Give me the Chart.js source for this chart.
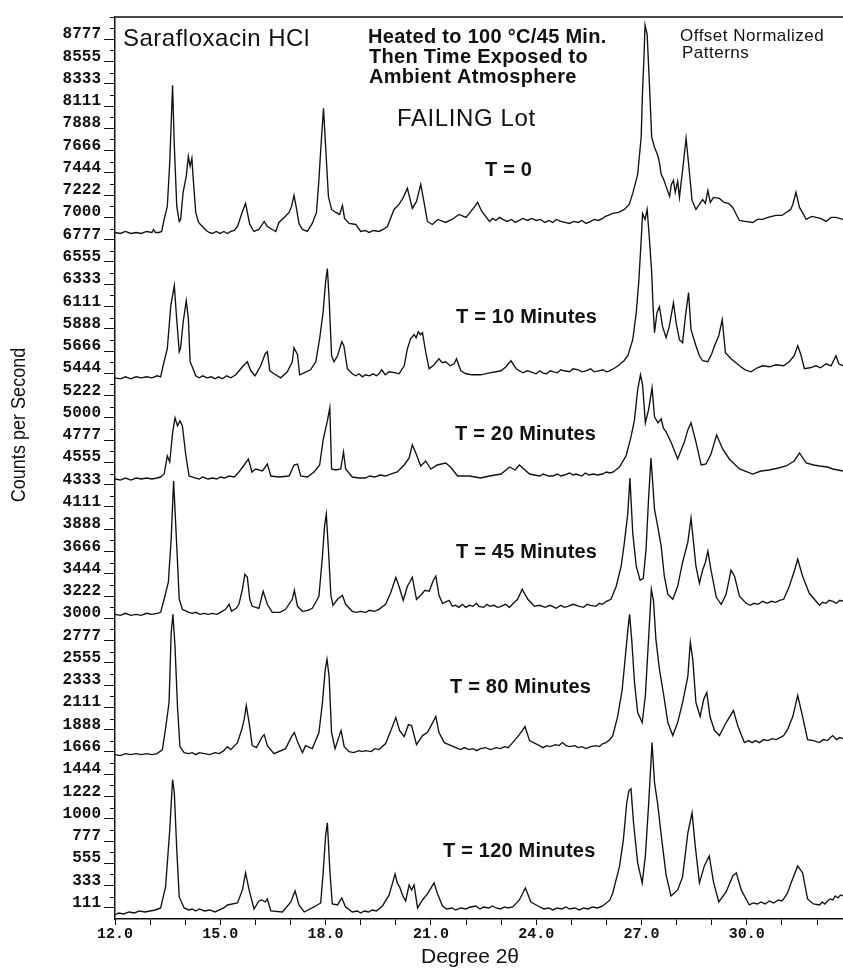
<!DOCTYPE html>
<html>
<head>
<meta charset="utf-8">
<title>Sarafloxacin HCl – offset normalized XRD patterns</title>
<script src="https://cdn.jsdelivr.net/npm/chart.js@4.4.1/dist/chart.umd.min.js"></script>
<style>
  html, body { margin: 0; padding: 0; background: #fff; }
  canvas { display: block; }
</style>
</head>
<body>
<canvas id="xrd" width="843" height="971"></canvas>
<script>
// ---- axis ranges and tick labels -------------------------------------
const twoThetaMin = 12.0;
const twoThetaMax = 32.74;
const countsMax = 9000;
const twoThetaTickLabels = [12, 15, 18, 21, 24, 27, 30];
const countTickLabels = ['111','333','555','777','1000','1222','1444','1666','1888','2111',
  '2333','2555','2777','3000','3222','3444','3666','3888','4111','4333',
  '4555','4777','5000','5222','5444','5666','5888','6111','6333','6555',
  '6777','7000','7222','7444','7666','7888','8111','8333','8555','8777'];

// ---- offset patterns: [2θ (deg), counts per second] ----------------------
const patternT0 = [
  [12.00,6850],[12.15,6840],[12.30,6860],[12.45,6840],[12.60,6850],[12.75,6840],[12.90,6860],
  [13.05,6850],[13.10,6880],[13.15,6850],[13.25,6850],[13.33,6860],[13.40,6980],[13.49,7110],
  [13.56,7550],[13.64,8320],[13.69,7710],[13.76,7110],[13.83,6960],[13.87,6980],[13.94,7250],
  [14.03,7410],[14.09,7610],[14.14,7510],[14.19,7590],[14.23,7380],[14.30,7050],[14.38,6950],
  [14.49,6910],[14.60,6870],[14.68,6850],[14.78,6840],[14.88,6860],[15.00,6840],[15.10,6860],
  [15.20,6840],[15.30,6860],[15.40,6870],[15.49,6910],[15.63,7060],[15.72,7140],[15.77,7050],
  [15.84,6930],[15.96,6860],[16.10,6880],[16.25,6960],[16.34,6910],[16.48,6880],[16.58,6860],
  [16.67,6950],[16.82,7000],[16.96,7050],[17.03,7110],[17.10,7220],[17.17,7090],[17.24,6940],
  [17.34,6880],[17.48,6860],[17.62,6940],[17.74,7050],[17.81,7380],[17.88,7780],[17.94,8090],
  [18.00,7710],[18.08,7210],[18.17,7080],[18.29,7050],[18.40,7030],[18.48,7120],[18.54,6990],
  [18.67,6940],[18.86,6930],[19.00,6860],[19.12,6870],[19.24,6850],[19.36,6870],[19.52,6860],
  [19.64,6880],[19.76,6910],[19.95,7080],[20.09,7130],[20.20,7190],[20.33,7290],[20.40,7190],
  [20.47,7090],[20.59,7160],[20.71,7330],[20.80,7160],[20.90,6960],[21.04,6930],[21.20,6980],
  [21.42,6950],[21.60,6980],[21.80,7030],[22.00,7000],[22.23,7100],[22.33,7150],[22.45,7060],
  [22.67,6960],[22.76,6990],[22.85,6970],[22.95,7000],[23.05,6980],[23.17,6960],[23.30,6980],
  [23.40,6950],[23.52,6970],[23.62,6990],[23.75,6970],[23.87,6990],[24.00,6970],[24.12,6980],
  [24.25,6950],[24.36,6970],[24.47,6950],[24.58,6980],[24.70,6960],[24.82,6950],[24.95,6940],
  [25.07,6960],[25.20,6950],[25.30,6970],[25.42,6940],[25.55,6960],[25.65,6980],[25.77,6970],
  [25.89,6990],[25.97,7010],[26.05,7020],[26.18,7040],[26.35,7050],[26.51,7080],[26.65,7130],
  [26.75,7240],[26.89,7430],[26.99,7800],[27.03,8270],[27.07,8600],[27.10,8920],[27.16,8830],
  [27.22,8370],[27.29,7800],[27.37,7700],[27.46,7620],[27.51,7550],[27.56,7430],[27.63,7380],
  [27.70,7310],[27.80,7210],[27.85,7330],[27.91,7370],[27.96,7250],[28.03,7360],[28.08,7200],
  [28.17,7470],[28.27,7790],[28.34,7540],[28.44,7170],[28.55,7080],[28.65,7130],[28.74,7180],
  [28.82,7140],[28.89,7270],[28.96,7150],[29.05,7200],[29.22,7190],[29.35,7150],[29.48,7140],
  [29.60,7100],[29.70,7030],[29.79,6970],[29.95,6960],[30.17,6950],[30.30,6980],[30.45,6980],
  [30.60,7000],[30.83,7020],[31.00,7020],[31.12,7050],[31.25,7080],[31.31,7130],[31.40,7250],
  [31.50,7100],[31.60,7040],[31.69,6980],[31.85,7010],[31.97,7000],[32.10,6990],[32.26,6960],
  [32.40,7000],[32.54,7000],[32.74,6980]
];

const patternT10 = [
  [12.00,5400],[12.15,5390],[12.30,5410],[12.45,5390],[12.60,5410],[12.75,5400],[12.90,5410],
  [13.05,5400],[13.20,5420],[13.30,5410],[13.37,5520],[13.49,5690],[13.59,6120],[13.64,6220],
  [13.69,6320],[13.75,6020],[13.83,5660],[13.87,5700],[13.94,5950],[14.03,6170],[14.09,5990],
  [14.14,5560],[14.20,5510],[14.30,5420],[14.40,5400],[14.50,5420],[14.62,5400],[14.75,5410],
  [14.85,5390],[14.95,5410],[15.06,5390],[15.18,5420],[15.30,5400],[15.44,5430],[15.63,5510],
  [15.77,5560],[15.87,5470],[15.99,5420],[16.15,5520],[16.28,5640],[16.34,5660],[16.41,5470],
  [16.53,5440],[16.72,5400],[16.91,5460],[17.05,5560],[17.10,5700],[17.20,5630],[17.26,5430],
  [17.39,5450],[17.57,5480],[17.72,5560],[17.83,5790],[17.93,6060],[18.00,6360],[18.05,6490],
  [18.10,6190],[18.17,5620],[18.24,5560],[18.34,5620],[18.46,5760],[18.52,5720],[18.62,5490],
  [18.76,5440],[18.86,5420],[18.95,5440],[19.05,5410],[19.14,5430],[19.25,5420],[19.35,5440],
  [19.45,5420],[19.52,5440],[19.60,5480],[19.70,5430],[19.81,5460],[20.00,5450],[20.09,5440],
  [20.24,5520],[20.33,5690],[20.42,5790],[20.52,5830],[20.58,5800],[20.64,5860],[20.70,5830],
  [20.76,5850],[20.85,5660],[20.95,5490],[21.09,5530],[21.23,5590],[21.32,5550],[21.42,5560],
  [21.55,5520],[21.66,5540],[21.73,5590],[21.85,5470],[22.00,5440],[22.18,5430],[22.42,5430],
  [22.67,5450],[22.85,5460],[23.00,5470],[23.14,5510],[23.28,5570],[23.43,5490],[23.62,5450],
  [23.75,5470],[23.85,5460],[24.00,5440],[24.10,5470],[24.18,5450],[24.30,5440],[24.40,5470],
  [24.50,5460],[24.60,5450],[24.70,5480],[24.80,5470],[24.95,5460],[25.05,5490],[25.20,5480],
  [25.30,5460],[25.42,5470],[25.55,5490],[25.65,5460],[25.78,5470],[25.90,5480],[26.00,5460],
  [26.09,5470],[26.25,5500],[26.37,5530],[26.50,5570],[26.61,5620],[26.75,5780],[26.85,6050],
  [26.92,6350],[26.99,6770],[27.03,7040],[27.10,6980],[27.16,7080],[27.22,6810],[27.29,6450],
  [27.33,6100],[27.37,5850],[27.44,6050],[27.51,6110],[27.60,5910],[27.70,5800],[27.79,5910],
  [27.91,6150],[27.99,5940],[28.08,5780],[28.17,5750],[28.25,6010],[28.34,6250],[28.41,5880],
  [28.55,5720],[28.65,5620],[28.74,5570],[28.89,5560],[29.00,5640],[29.08,5720],[29.20,5820],
  [29.30,5980],[29.39,5650],[29.55,5590],[29.79,5520],[29.95,5480],[30.12,5460],[30.30,5500],
  [30.45,5520],[30.65,5510],[30.83,5530],[31.05,5520],[31.21,5560],[31.35,5620],[31.45,5720],
  [31.55,5620],[31.64,5490],[31.80,5500],[31.97,5520],[32.10,5500],[32.26,5540],[32.40,5520],
  [32.54,5620],[32.62,5540],[32.74,5520]
];

const patternT20 = [
  [12.00,4390],[12.15,4380],[12.30,4400],[12.45,4380],[12.60,4400],[12.75,4390],[12.90,4400],
  [13.05,4390],[13.20,4400],[13.30,4410],[13.40,4440],[13.49,4620],[13.56,4560],[13.64,4850],
  [13.71,5000],[13.78,4920],[13.85,4970],[13.92,4920],[14.02,4620],[14.11,4420],[14.30,4400],
  [14.40,4390],[14.50,4410],[14.65,4390],[14.78,4400],[14.90,4390],[15.00,4410],[15.12,4400],
  [15.25,4420],[15.40,4410],[15.53,4460],[15.68,4530],[15.80,4590],[15.90,4460],[16.01,4490],
  [16.20,4470],[16.34,4540],[16.44,4420],[16.67,4410],[16.96,4420],[17.10,4530],[17.20,4540],
  [17.29,4420],[17.48,4410],[17.67,4460],[17.83,4530],[17.93,4780],[18.05,4970],[18.12,5100],
  [18.17,4490],[18.29,4480],[18.43,4490],[18.51,4660],[18.57,4490],[18.76,4410],[18.95,4400],
  [19.14,4400],[19.25,4420],[19.40,4410],[19.55,4430],[19.71,4420],[19.85,4440],[20.04,4460],
  [20.24,4530],[20.38,4600],[20.47,4730],[20.57,4650],[20.71,4520],[20.85,4570],[21.00,4490],
  [21.18,4530],[21.42,4550],[21.56,4510],[21.76,4420],[22.09,4420],[22.42,4400],[22.67,4420],
  [23.00,4440],[23.24,4510],[23.40,4480],[23.52,4530],[23.81,4440],[23.95,4430],[24.10,4420],
  [24.20,4440],[24.35,4420],[24.47,4420],[24.60,4440],[24.70,4420],[24.80,4430],[24.95,4450],
  [25.05,4430],[25.14,4440],[25.30,4420],[25.40,4450],[25.50,4430],[25.62,4440],[25.75,4430],
  [25.89,4440],[26.00,4460],[26.10,4450],[26.20,4460],[26.37,4510],[26.56,4620],[26.70,4810],
  [26.80,4980],[26.89,5280],[26.97,5430],[27.03,5330],[27.11,4950],[27.20,5080],[27.30,5300],
  [27.37,5010],[27.47,4950],[27.56,4990],[27.62,4900],[27.70,4860],[27.84,4760],[28.03,4590],
  [28.22,4760],[28.32,4880],[28.41,4950],[28.55,4760],[28.70,4530],[28.84,4540],[28.98,4640],
  [29.14,4830],[29.31,4690],[29.50,4590],[29.79,4490],[30.17,4440],[30.40,4470],[30.64,4480],
  [30.90,4500],[31.12,4520],[31.35,4570],[31.50,4650],[31.69,4550],[31.90,4530],[32.07,4520],
  [32.30,4510],[32.45,4490],[32.74,4470]
];

const patternT45 = [
  [12.00,3040],[12.15,3030],[12.30,3050],[12.45,3030],[12.60,3040],[12.75,3030],[12.90,3050],
  [13.05,3040],[13.20,3050],[13.30,3060],[13.40,3190],[13.52,3360],[13.60,3790],[13.67,4370],
  [13.75,3790],[13.83,3190],[13.92,3090],[14.10,3060],[14.20,3050],[14.30,3060],[14.42,3040],
  [14.55,3050],[14.66,3040],[14.78,3050],[14.90,3040],[15.00,3060],[15.15,3090],[15.25,3140],
  [15.32,3070],[15.45,3100],[15.53,3140],[15.63,3290],[15.70,3440],[15.77,3410],[15.84,3190],
  [15.91,3120],[16.10,3100],[16.22,3270],[16.34,3140],[16.48,3060],[16.70,3060],[16.86,3090],
  [17.05,3190],[17.11,3280],[17.20,3120],[17.34,3070],[17.50,3080],[17.62,3100],[17.75,3180],
  [17.81,3220],[17.91,3620],[17.97,3920],[18.02,4040],[18.08,3690],[18.15,3230],[18.21,3130],
  [18.34,3190],[18.48,3230],[18.57,3140],[18.76,3070],[18.88,3060],[19.00,3070],[19.14,3060],
  [19.25,3080],[19.40,3070],[19.52,3090],[19.71,3140],[19.86,3260],[20.00,3410],[20.09,3320],
  [20.21,3180],[20.33,3320],[20.41,3370],[20.47,3410],[20.59,3190],[20.71,3230],[20.83,3280],
  [20.95,3270],[21.07,3380],[21.14,3420],[21.23,3230],[21.33,3150],[21.52,3180],[21.61,3120],
  [21.70,3130],[21.80,3110],[21.90,3140],[21.99,3110],[22.10,3130],[22.20,3120],[22.30,3150],
  [22.37,3120],[22.50,3110],[22.60,3140],[22.67,3120],[22.80,3130],[22.90,3110],[23.00,3120],
  [23.12,3140],[23.24,3110],[23.35,3150],[23.47,3190],[23.60,3290],[23.76,3190],[23.95,3120],
  [24.10,3130],[24.25,3110],[24.40,3130],[24.57,3100],[24.70,3130],[24.80,3110],[24.90,3120],
  [25.05,3140],[25.23,3120],[25.35,3110],[25.45,3140],[25.55,3130],[25.70,3120],[25.80,3150],
  [25.89,3140],[26.00,3170],[26.13,3190],[26.28,3320],[26.42,3520],[26.51,3750],[26.61,4050],
  [26.67,4400],[26.75,3850],[26.85,3520],[26.96,3380],[27.05,3400],[27.13,3690],[27.20,4190],
  [27.27,4600],[27.37,4090],[27.46,3920],[27.56,3720],[27.65,3420],[27.75,3240],[27.89,3190],
  [28.03,3320],[28.17,3560],[28.32,3760],[28.41,4000],[28.48,3760],[28.55,3520],[28.65,3350],
  [28.74,3480],[28.82,3560],[28.89,3670],[28.98,3480],[29.13,3210],[29.27,3140],[29.41,3240],
  [29.55,3480],[29.65,3420],[29.79,3220],[29.98,3150],[30.10,3130],[30.20,3150],[30.32,3140],
  [30.45,3170],[30.58,3150],[30.70,3170],[30.82,3160],[30.93,3180],[31.05,3190],[31.21,3320],
  [31.36,3480],[31.45,3590],[31.59,3420],[31.78,3250],[32.07,3130],[32.16,3160],[32.25,3150],
  [32.35,3180],[32.45,3170],[32.55,3150],[32.65,3180],[32.74,3170]
];

const patternT80 = [
  [12.00,1640],[12.15,1630],[12.30,1650],[12.45,1640],[12.60,1650],[12.75,1640],[12.90,1650],
  [13.05,1640],[13.20,1650],[13.35,1690],[13.44,1900],[13.54,2160],[13.60,2850],[13.65,3040],
  [13.71,2720],[13.78,2120],[13.85,1720],[13.97,1660],[14.10,1650],[14.20,1660],[14.30,1640],
  [14.40,1660],[14.55,1650],[14.70,1640],[14.85,1660],[14.97,1650],[15.10,1680],[15.20,1720],
  [15.30,1690],[15.49,1760],[15.61,1890],[15.68,1990],[15.74,2130],[15.82,1960],[15.91,1730],
  [16.03,1710],[16.18,1810],[16.25,1840],[16.34,1730],[16.53,1650],[16.86,1700],[17.03,1820],
  [17.11,1860],[17.21,1760],[17.34,1660],[17.43,1730],[17.62,1700],[17.81,1860],[17.91,2160],
  [17.99,2490],[18.04,2590],[18.10,2420],[18.17,1860],[18.27,1700],[18.39,1830],[18.44,1880],
  [18.53,1720],[18.67,1670],[18.80,1660],[18.95,1680],[19.05,1670],[19.14,1680],[19.30,1670],
  [19.40,1700],[19.52,1690],[19.71,1750],[19.86,1880],[20.00,2010],[20.11,1880],[20.24,1820],
  [20.36,1940],[20.45,1930],[20.59,1740],[20.76,1830],[20.90,1860],[21.02,1940],[21.14,2020],
  [21.23,1860],[21.38,1760],[21.71,1710],[21.85,1690],[21.95,1710],[22.09,1690],[22.20,1700],
  [22.30,1680],[22.42,1700],[22.55,1710],[22.70,1690],[22.86,1710],[22.98,1700],[23.10,1720],
  [23.20,1710],[23.33,1760],[23.52,1840],[23.68,1920],[23.81,1780],[24.09,1730],[24.20,1710],
  [24.30,1730],[24.40,1720],[24.55,1740],[24.65,1730],[24.75,1760],[24.85,1730],[24.95,1720],
  [25.10,1730],[25.20,1710],[25.30,1720],[25.42,1700],[25.55,1720],[25.70,1730],[25.80,1720],
  [25.90,1750],[25.99,1760],[26.10,1790],[26.18,1830],[26.32,2020],[26.45,2290],[26.54,2620],
  [26.61,2880],[26.66,3040],[26.72,2790],[26.80,2360],[26.89,2060],[27.02,1960],[27.11,2230],
  [27.20,2790],[27.28,3290],[27.34,3180],[27.41,2790],[27.51,2490],[27.62,2260],[27.75,1960],
  [27.89,1830],[28.03,1960],[28.17,2160],[28.32,2420],[28.39,2760],[28.46,2590],[28.55,2160],
  [28.67,2020],[28.77,2190],[28.86,2260],[28.95,2020],[29.08,1880],[29.22,1830],[29.41,1960],
  [29.62,2080],[29.74,1930],[29.93,1760],[30.05,1780],[30.15,1760],[30.25,1780],[30.36,1760],
  [30.48,1790],[30.60,1780],[30.72,1800],[30.83,1790],[30.95,1810],[31.05,1830],[31.16,1890],
  [31.31,2020],[31.45,2230],[31.59,2020],[31.73,1790],[31.90,1780],[32.07,1760],[32.18,1790],
  [32.30,1780],[32.38,1810],[32.45,1830],[32.55,1790],[32.65,1810],[32.74,1800]
];

const patternT120 = [
  [12.00,40],[12.10,60],[12.25,50],[12.40,70],[12.55,60],[12.70,80],[12.85,70],[13.00,80],
  [13.15,90],[13.30,110],[13.44,320],[13.56,890],[13.64,1390],[13.69,1260],[13.76,690],
  [13.83,220],[13.97,110],[14.10,90],[14.20,100],[14.30,80],[14.40,100],[14.55,80],[14.70,90],
  [14.85,70],[14.97,90],[15.10,110],[15.20,140],[15.49,160],[15.63,290],[15.72,460],[15.82,290],
  [15.96,100],[16.10,180],[16.18,190],[16.28,170],[16.34,200],[16.44,80],[16.77,70],[17.01,170],
  [17.13,280],[17.24,140],[17.39,70],[17.67,120],[17.86,160],[17.93,460],[18.00,830],[18.05,960],
  [18.12,490],[18.19,150],[18.34,140],[18.46,210],[18.57,120],[18.76,70],[18.90,80],[19.00,60],
  [19.10,80],[19.22,70],[19.33,90],[19.45,80],[19.62,130],[19.81,240],[19.98,450],[20.04,360],
  [20.11,320],[20.19,240],[20.28,180],[20.38,340],[20.45,290],[20.52,340],[20.62,110],[20.76,190],
  [20.90,250],[21.09,360],[21.18,260],[21.33,130],[21.45,100],[21.60,110],[21.71,90],[21.85,110],
  [22.00,100],[22.12,120],[22.28,130],[22.40,100],[22.50,120],[22.65,110],[22.75,130],[22.86,110],
  [22.98,100],[23.10,120],[23.20,110],[23.33,120],[23.52,190],[23.69,310],[23.85,170],[24.10,120],
  [24.22,100],[24.35,110],[24.47,90],[24.60,110],[24.72,100],[24.85,120],[24.95,100],[25.10,110],
  [25.23,90],[25.35,110],[25.48,100],[25.60,120],[25.75,110],[25.89,130],[26.00,160],[26.10,190],
  [26.18,260],[26.37,520],[26.48,780],[26.58,1160],[26.64,1280],[26.70,1300],[26.77,970],
  [26.89,560],[27.02,360],[27.11,630],[27.20,1130],[27.30,1760],[27.37,1360],[27.46,1150],
  [27.56,840],[27.70,440],[27.84,230],[28.03,290],[28.17,420],[28.32,860],[28.44,1060],
  [28.53,730],[28.65,360],[28.79,530],[28.93,630],[29.05,370],[29.20,170],[29.41,270],[29.60,430],
  [29.70,460],[29.84,290],[30.07,140],[30.18,160],[30.30,150],[30.40,170],[30.52,150],[30.64,180],
  [30.76,160],[30.90,190],[31.00,180],[31.07,210],[31.16,260],[31.26,360],[31.45,530],[31.59,460],
  [31.73,200],[31.90,150],[32.07,140],[32.15,170],[32.22,150],[32.30,180],[32.38,200],[32.45,190],
  [32.52,230],[32.60,210],[32.67,240],[32.74,230]
];

const patternNames = ['T = 0', 'T = 10 Minutes', 'T = 20 Minutes', 'T = 45 Minutes', 'T = 80 Minutes', 'T = 120 Minutes'];
const patterns = [patternT0, patternT10, patternT20, patternT45, patternT80, patternT120];

// ---- fonts --------------------------------------------------------------
const SANS = "'Liberation Sans', Arial, Helvetica, sans-serif";
const MONO = "'Liberation Mono', 'Courier New', monospace";

// ---- text placed over the plot -------------------------------------------
const notes = [
  { text: 'Sarafloxacin HCl', x: 123, y: 46, font: `24px ${SANS}`, spacing: 0.5 },
  { text: 'Heated to 100 \u00B0C/45 Min.', x: 368, y: 43, font: `bold 20px ${SANS}`, spacing: 0.3 },
  { text: 'Then Time Exposed to', x: 369, y: 63, font: `bold 20px ${SANS}`, spacing: 0.3 },
  { text: 'Ambient Atmosphere', x: 369, y: 83, font: `bold 20px ${SANS}`, spacing: 0.3 },
  { text: 'FAILING Lot', x: 397, y: 126, font: `24px ${SANS}`, spacing: 0.6 },
  { text: 'Offset Normalized', x: 680, y: 41, font: `17px ${SANS}`, spacing: 0.5 },
  { text: 'Patterns', x: 682, y: 58, font: `17px ${SANS}`, spacing: 0.5 },
  { text: patternNames[0], x: 485, y: 176, font: `bold 20px ${SANS}`, spacing: 0.2 },
  { text: patternNames[1], x: 456, y: 323, font: `bold 20px ${SANS}`, spacing: 0.2 },
  { text: patternNames[2], x: 455, y: 440, font: `bold 20px ${SANS}`, spacing: 0.2 },
  { text: patternNames[3], x: 456, y: 558, font: `bold 20px ${SANS}`, spacing: 0.2 },
  { text: patternNames[4], x: 450, y: 693, font: `bold 20px ${SANS}`, spacing: 0.2 },
  { text: patternNames[5], x: 443, y: 857, font: `bold 20px ${SANS}`, spacing: 0.2 }
];

// Frame line, minor count ticks, axis titles and the in-plot notes
const decorations = {
  id: 'decorations',
  afterDraw(chart) {
    const { ctx, chartArea: a, scales: { y } } = chart;
    const step = countsMax / 81;
    ctx.save();
    ctx.strokeStyle = '#111';
    ctx.lineWidth = 1.5;
    ctx.beginPath();
    ctx.moveTo(a.left - 1, a.top);
    ctx.lineTo(a.right, a.top);
    ctx.stroke();

    ctx.lineWidth = 1;
    const minor = [];
    for (let k = 2; k <= 80; k += 2) minor.push(k);
    minor.push(81);
    minor.forEach(k => {
      const py = Math.round(y.getPixelForValue(k * step)) + 0.5;
      ctx.beginPath();
      ctx.moveTo(a.left - 5, py);
      ctx.lineTo(a.left, py);
      ctx.stroke();
    });

    ctx.fillStyle = '#111';
    ctx.textBaseline = 'alphabetic';
    ctx.textAlign = 'left';
    notes.forEach(n => {
      ctx.font = n.font;
      if ('letterSpacing' in ctx) ctx.letterSpacing = (n.spacing || 0) + 'px';
      ctx.fillText(n.text, n.x, n.y);
    });
    if ('letterSpacing' in ctx) ctx.letterSpacing = '0px';

    // axis titles
    ctx.save();
    ctx.translate(25, 425);
    ctx.rotate(-Math.PI / 2);
    ctx.scale(0.86, 1);
    ctx.font = `21px ${SANS}`;
    ctx.textAlign = 'center';
    ctx.fillText('Counts per Second', 0, 0);
    ctx.restore();

    ctx.font = `21px ${SANS}`;
    ctx.textAlign = 'center';
    ctx.fillText('Degree 2\u03B8', 470, 963);
    ctx.restore();
  }
};

new Chart(document.getElementById('xrd'), {
  type: 'scatter',
  data: {
    datasets: patterns.map((p, i) => ({
      label: patternNames[i],
      data: p.map(([tt, c]) => ({ x: tt, y: c })),
      showLine: true,
      borderColor: '#111',
      borderWidth: 1.35,
      pointRadius: 0,
      tension: 0,
      fill: false
    }))
  },
  options: {
    responsive: false,
    animation: false,
    devicePixelRatio: 1,
    layout: { padding: { top: 17, right: 0, bottom: 0, left: 0 } },
    plugins: { legend: { display: false }, tooltip: { enabled: false }, title: { display: false } },
    scales: {
      x: {
        type: 'linear',
        min: twoThetaMin,
        max: twoThetaMax,
        afterBuildTicks(scale) {
          const t = [];
          for (let v = 12; v <= 32; v++) t.push({ value: v });
          scale.ticks = t;
        },
        afterFit(scale) { scale.height = 52; },
        grid: { drawOnChartArea: false, tickLength: 6, tickColor: '#111', tickWidth: 1 },
        border: { color: '#111', width: 1.5 },
        ticks: {
          autoSkip: false,
          maxRotation: 0,
          padding: 0,
          color: '#111',
          font: { family: MONO, size: 15, weight: 'bold' },
          callback: v => twoThetaTickLabels.includes(v) ? v.toFixed(1) : ''
        }
      },
      y: {
        type: 'linear',
        min: 0,
        max: countsMax,
        afterBuildTicks(scale) {
          const step = countsMax / 81;
          scale.ticks = countTickLabels.map((_, i) => ({ value: (2 * i + 1) * step }));
        },
        afterFit(scale) { scale.width = 115; },
        grid: { drawOnChartArea: false, tickLength: 11, tickColor: '#111', tickWidth: 1 },
        border: { color: '#111', width: 1.5 },
        ticks: {
          autoSkip: false,
          padding: 3,
          labelOffset: -5,
          color: '#111',
          font: { family: MONO, size: 16, weight: 'bold' },
          callback: (v, i) => countTickLabels[i]
        }
      }
    }
  },
  plugins: [decorations]
});
</script>
</body>
</html>
